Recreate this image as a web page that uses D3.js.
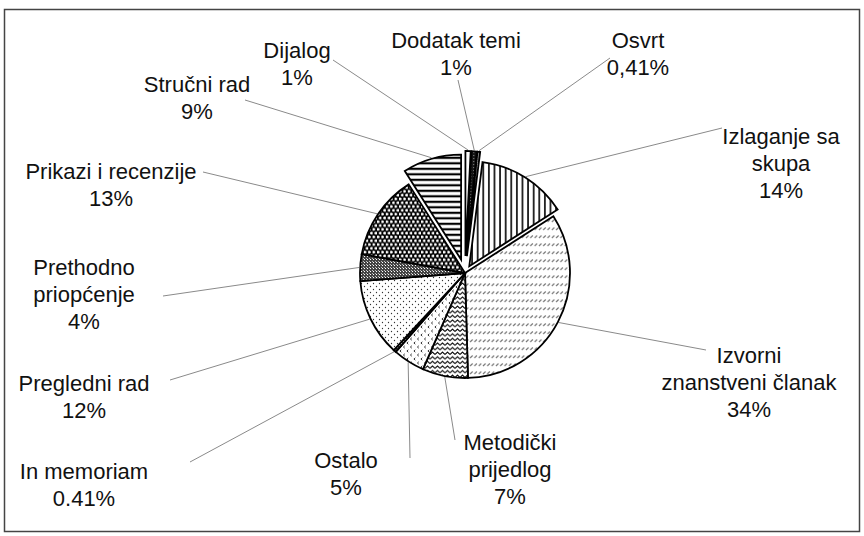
<!DOCTYPE html>
<html>
<head>
<meta charset="utf-8">
<script src="https://cdn.jsdelivr.net/npm/d3@7"></script>
<style>
  body { margin: 0; background: #fff; }
  svg { display: block; }
  .lbl { font-family: "Liberation Sans", Arial, sans-serif; font-size: 22px; fill: #111; }
</style>
</head>
<body>
<svg width="864" height="536"></svg>
<script>
/* -- data -- */
var categories = ["Dijalog", "Dodatak temi", "Osvrt", "Izlaganje sa skupa", "Izvorni znanstveni članak",
                  "Metodički prijedlog", "Ostalo", "In memoriam", "Pregledni rad",
                  "Prethodno priopćenje", "Prikazi i recenzije", "Stručni rad"]
var values = [0.8, 0.8, 0.41, 13.9, 33.6, 7, 4.9, 0.41, 11.9, 4.1, 13.1, 9]
var pctLabels = ["1%", "1%", "0,41%", "14%", "34%", "7%", "5%", "0.41%", "12%", "4%", "13%", "9%"]
var nameLines = [["Dijalog"], ["Dodatak temi"], ["Osvrt"], ["Izlaganje sa", "skupa"], ["Izvorni", "znanstveni članak"],
                 ["Metodički", "prijedlog"], ["Ostalo"], ["In memoriam"], ["Pregledni rad"],
                 ["Prethodno", "priopćenje"], ["Prikazi i recenzije"], ["Stručni rad"]]

/* -- layout -- */
var cx = 465, cy = 273, radius = 105
var lineH = 27
var explode = [17, 17, 17, 8, 0, 0, 0, 0, 0, 0, 0, 14]
var labelX = [297, 456, 638, 781, 749, 510, 346, 84, 84, 84, 111, 197]
var labelY = [58, 48, 48, 144, 363, 450, 468, 479, 391, 275, 179, 92]
var leaderEnd = [[333, 60], [458, 80], [610, 58], [722, 128], [706, 350], [455, 440],
                 [410, 458], [190, 462], [170, 380], [163, 296], [203, 172], [245, 100]]
var patternIds = ["p-dijalog", "p-dodatak", "p-osvrt", "p-izlaganje", "p-izvorni", "p-metodicki",
                  "p-ostalo", "p-inmem", "p-pregledni", "p-prethodno", "p-prikazi", "p-strucni"]

var svg = d3.select("svg")
var defs = svg.append("defs")

function addPattern(id, w, h, bg) {
    var p = defs.append("pattern")
        .attr("id", id)
        .attr("patternUnits", "userSpaceOnUse")
        .attr("width", w)
        .attr("height", h)
    p.append("rect").attr("width", w).attr("height", h).attr("fill", bg)
    return p
}

/* patterns, one per slice */
addPattern("p-dijalog", 4, 4, "#fff")

var pd = addPattern("p-dodatak", 3, 3, "#151515")
pd.append("rect").attr("x", 1).attr("y", 1).attr("width", 1).attr("height", 1).attr("fill", "#999")

var po = addPattern("p-osvrt", 2, 2, "#8c8c8c")
po.append("rect").attr("width", 1).attr("height", 1).attr("fill", "#d0d0d0")

var pi = addPattern("p-izlaganje", 5.6, 5.6, "#fff")
pi.append("line").attr("x1", 2.8).attr("x2", 2.8).attr("y1", 0).attr("y2", 5.6)
    .attr("stroke", "#000").attr("stroke-width", 1.6)

var pz = addPattern("p-izvorni", 4.3, 8, "#fff")
pz.append("line").attr("x1", 0.8).attr("y1", 5).attr("x2", 3.3).attr("y2", 2.5)
    .attr("stroke", "#777").attr("stroke-width", 1.1)

var pm = addPattern("p-metodicki", 5, 4.6, "#fff")
pm.append("path").attr("d", "M0,3.3 L2.5,1 L5,3.3").attr("fill", "none")
    .attr("stroke", "#000").attr("stroke-width", 1)

var pt = addPattern("p-ostalo", 7, 8, "#fff")
pt.append("path").attr("d", "M2.8,0.8 L1.4,2 L2.8,3.2").attr("fill", "none")
    .attr("stroke", "#222").attr("stroke-width", 0.9)
pt.append("path").attr("d", "M6.3,4.8 L4.9,6 L6.3,7.2").attr("fill", "none")
    .attr("stroke", "#222").attr("stroke-width", 0.9)

var pn = addPattern("p-inmem", 2, 2, "#333")
pn.append("rect").attr("width", 1).attr("height", 1).attr("fill", "#eee")

var pp = addPattern("p-pregledni", 6, 6, "#fff")
pp.append("circle").attr("cx", 1.5).attr("cy", 1.5).attr("r", 0.65).attr("fill", "#333")
pp.append("circle").attr("cx", 4.5).attr("cy", 4.5).attr("r", 0.65).attr("fill", "#333")

var pr = addPattern("p-prethodno", 3, 3, "#444")
pr.append("rect").attr("x", 1).attr("y", 1).attr("width", 1).attr("height", 1).attr("fill", "#fff")
pr.append("rect").attr("x", 0).attr("y", 0).attr("width", 1).attr("height", 1).attr("fill", "#bbb")

var pk = addPattern("p-prikazi", 4.4, 7.6, "#000")
pk.append("circle").attr("cx", 1.1).attr("cy", 1.9).attr("r", 1.5).attr("fill", "#fff")
pk.append("circle").attr("cx", 3.3).attr("cy", 5.7).attr("r", 1.5).attr("fill", "#fff")

var ps = addPattern("p-strucni", 5.5, 5.5, "#fff")
ps.append("line").attr("x1", 0).attr("x2", 5.5).attr("y1", 2.75).attr("y2", 2.75)
    .attr("stroke", "#000").attr("stroke-width", 2.2)

/* frame */
svg.append("rect")
    .attr("x", 4.5).attr("y", 9.5)
    .attr("width", 855).attr("height", 522)
    .attr("fill", "none")
    .attr("stroke", "#444")
    .attr("stroke-width", 1.5)

var pie = d3.pie().sort(null).value(function (d) { return d })
var arcs = pie(values)
var arc = d3.arc().innerRadius(0).outerRadius(radius)

function midAngle(d) { return (d.startAngle + d.endAngle) / 2 }
function shift(d, i) {
    var a = midAngle(d)
    return [Math.sin(a) * explode[i], -Math.cos(a) * explode[i]]
}

/* leader lines */
svg.append("g").selectAll("line")
    .data(arcs)
    .enter()
    .append("line")
    .attr("x1", function (d, i) { return cx + shift(d, i)[0] + Math.sin(midAngle(d)) * (radius + 1) })
    .attr("y1", function (d, i) { return cy + shift(d, i)[1] - Math.cos(midAngle(d)) * (radius + 1) })
    .attr("x2", function (d, i) { return leaderEnd[i][0] })
    .attr("y2", function (d, i) { return leaderEnd[i][1] })
    .attr("stroke", "#8a8a8a")
    .attr("stroke-width", 1)

/* slices */
var g = svg.append("g").attr("transform", "translate(" + cx + "," + cy + ")")
g.selectAll("path")
    .data(arcs)
    .enter()
    .append("path")
    .attr("transform", function (d, i) { var s = shift(d, i); return "translate(" + s[0] + "," + s[1] + ")" })
    .attr("d", arc)
    .attr("fill", function (d, i) { return "url(#" + patternIds[i] + ")" })
    .attr("stroke", "#000")
    .attr("stroke-width", 1.8)
    .attr("stroke-linejoin", "miter")

/* labels */
var lg = svg.append("g")
categories.forEach(function (c, i) {
    var lines = nameLines[i].concat([pctLabels[i]])
    var t = lg.append("text")
        .attr("class", "lbl")
        .attr("text-anchor", "middle")
    lines.forEach(function (s, k) {
        t.append("tspan")
            .attr("x", labelX[i])
            .attr("y", labelY[i] + k * lineH)
            .text(s)
    })
})
</script>
</body>
</html>
